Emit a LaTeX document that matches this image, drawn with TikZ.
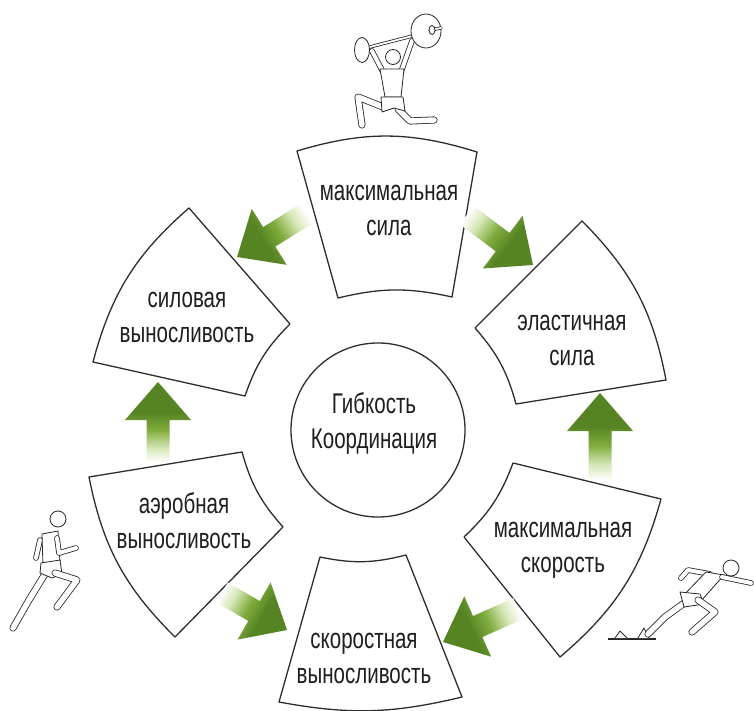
\documentclass[tikz,border=0pt]{standalone}
\usepackage{fontspec}
\setmainfont{Liberation Sans}[FakeStretch=0.72]

\definecolor{inkgray}{RGB}{45,45,45}
\definecolor{leafdark}{RGB}{86,132,34}
\definecolor{leafmid}{RGB}{128,172,62}
\definecolor{leaflight}{RGB}{212,230,180}

% tail of each arrow fades out, head stays dark
\pgfdeclarehorizontalshading{leaffade}{100bp}{color(0bp)=(white); color(25bp)=(white); color(34bp)=(leaflight); color(45bp)=(leafmid); color(56bp)=(leafdark); color(100bp)=(leafdark)}

\tikzset{
  sector/.style={draw=inkgray, line width=1.3pt, fill=white, line join=round},
  lbl/.style={font=\fontsize{28.5}{35}\selectfont, text=black!88, align=center},
  leaf/.style={shading=leaffade},
  limb/.style={draw=black!85, line width=0.8pt, double=white, double distance=5.5pt, line cap=round, line join=round},
  body/.style={draw=black!85, line width=0.8pt, fill=white, line join=round},
}

\begin{document}
\begin{tikzpicture}[x=1pt,y=1pt]
\path[use as bounding box, fill=white] (0,0) rectangle (754,-711);

% the six blocks round the centre
\draw[sector] (297,-151) to[bend left=17] (477,-152) -- (452,-297) to[bend right=13] (338,-298) -- cycle;
\draw[sector] (582,-221) to[bend left=17] (666,-380) -- (516,-404) to[bend right=13] (475,-328) -- cycle;
\draw[sector] (661,-499) to[bend left=17] (560,-657) -- (464,-537) to[bend right=13] (513,-463) -- cycle;
\draw[sector] (462,-697) to[bend left=12] (279,-702) -- (320,-557) to[bend right=13] (406,-555) -- cycle;
\draw[sector] (175,-637) to[bend left=17] (89,-477) -- (242,-452) to[bend right=13] (283,-527) -- cycle;
\draw[sector] (93,-362) to[bend left=17] (189,-208) -- (290,-324) to[bend right=13] (245,-396) -- cycle;

\node[lbl] (maxsila) at (389,-210) {максимальная\\сила};
\node[lbl] (elsila) at (572,-340) {эластичная\\сила};
\node[lbl] (maxskor) at (563,-550) {максимальная\\скорость};
\node[lbl] (skorvyn) at (364,-658) {скоростная\\выносливость};
\node[lbl] (aerob) at (184,-521) {аэробная\\выносливость};
\node[lbl] (silvyn) at (187,-317) {силовая\\выносливость};

\node[draw=inkgray, line width=1.3pt, circle, minimum size=174pt] (core) at (378,-430) {};
\node[lbl] (coretxt) at (374,-424) {Гибкость\\Координация};

% green arrows: tip, direction, length
\foreach \i/\tx/\ty/\ang/\len in {1/237/257/212/82, 2/533/265/-37/83, 3/600/393/90/87, 4/443/642/204/82, 5/287/630/-30/75, 6/158/382/90/80}{
  \coordinate (tip\i) at (\tx,-\ty);
  \begin{scope}[transform canvas={shift={(tip\i)},rotate=\ang}]
    \shade[leaf] (0,0) -- (-38,33) -- (-38,11.5) -- (-\len,11.5) -- (-\len,-11.5) -- (-38,-11.5) -- (-38,-33) -- cycle;
  \end{scope}
}

% weightlifter
\draw[limb] (383,-107) -- (358,-97) -- (362,-125);
\draw[limb] (398,-109) -- (410,-121) -- (434,-120);
\draw[limb, double distance=4pt] (383,-72) -- (372,-51);
\draw[limb, double distance=4pt] (401,-72) -- (412,-41);
\draw[limb, double distance=1.8pt] (366,-48) -- (428,-32);
\draw[body] (362,-50) ellipse (7.5 and 12.5);
\draw[body] (426,-31) ellipse (15 and 17);
\draw[limb, double distance=1.8pt] (430,-30) -- (441,-28);
\draw[body] (432,-30) ellipse (3 and 4.5);
\draw[body] (380,-69) -- (404,-69) -- (401,-97) -- (385,-97) -- cycle;
\draw[body] (381,-97) -- (403,-97) -- (405,-111) -- (394,-108) -- (382,-112) -- cycle;
\draw[body] (393,-57) circle (7.5);

% runner
\draw[limb] (45,-574) -- (29,-600) -- (13,-628);
\draw[limb, double distance=4pt] (40,-540) -- (36,-558);
\draw[body] (42,-534) -- (58,-531) -- (60,-562) -- (43,-566) -- cycle;
\draw[body] (41,-563) -- (60,-560) -- (62,-574) -- (52,-578) -- (40,-573) -- cycle;
\draw[limb] (55,-573) -- (77,-580) -- (57,-607);
\draw[limb, double distance=4pt] (57,-538) -- (59,-553) -- (76,-548);
\draw[body] (58,-519) circle (8);

% sprinter on the blocks
\draw[black!85, line width=1.6pt] (608,-639) -- (656,-639);
\draw[body] (615,-638) -- (620,-631) -- (627,-638);
\draw[body] (638,-638) -- (644,-628) -- (649,-638);
\draw[limb] (687,-601) -- (665,-617) -- (648,-634);
\draw[limb, double distance=4pt] (710,-574) -- (688,-570) -- (681,-578);
\draw[body] (682,-597) -- (706,-572) -- (724,-575) -- (701,-601) -- cycle;
\draw[body] (680,-592) -- (700,-594) -- (704,-604) -- (684,-607) -- cycle;
\draw[limb] (698,-600) -- (715,-612) -- (692,-632);
\draw[limb, double distance=4pt] (722,-577) -- (751,-583);
\draw[body] (731,-568) circle (8);
\end{tikzpicture}
\end{document}
